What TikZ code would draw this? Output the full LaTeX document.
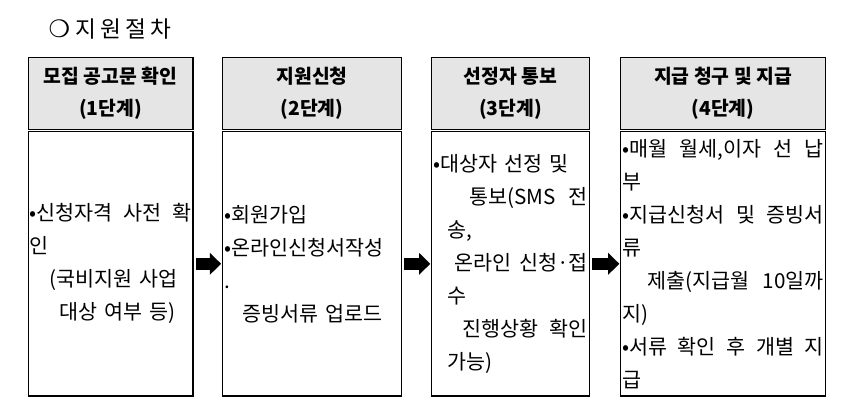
\documentclass[tikz,border=0pt]{standalone}
\usepackage{fontspec}
\setmainfont{Noto Sans CJK KR}
\newfontfamily\symfont{DejaVu Sans}
\usetikzlibrary{arrows.meta}
\definecolor{hdrgray}{RGB}{229,229,229}
\newcommand{\jline}[2][0pt]{\hspace*{#1}\makebox[\dimexpr\hsize-#1\relax][s]{\spaceskip=0.05em plus 1fil\relax #2}}
\newcommand{\bodysize}{\fontsize{15.5pt}{24.75pt}\selectfont}

\begin{document}
\begin{tikzpicture}[x=0.75pt,y=-0.75pt,
    hdr/.style={draw,line width=1pt,fill=hdrgray,minimum height=54pt,inner sep=0pt,align=center,
        font=\bfseries\fontsize{14.5pt}{23.8pt}\selectfont},
    body/.style={draw,line width=1pt,minimum height=198.4pt,inner xsep=1.2pt,inner ysep=0pt,align=left,
        font=\bodysize},
    arr/.style={line width=9pt,-{Triangle[length=8.5pt,width=16pt]},shorten <=1.5pt,shorten >=0.5pt}]
    \useasboundingbox (0,0) rectangle (853,408);

    \node[anchor=west,font=\fontsize{17pt}{20pt}\selectfont] (title) at (44,29)
        {{\symfont\fontsize{18pt}{20pt}\selectfont ❍}\hspace{4pt}지\hspace{3pt}원\hspace{3pt}절\hspace{3pt}차};

    % headers
    \node[hdr,minimum width=123.5pt] (h1) at (110.6,93.3) {모집 공고문 확인\\(1단계)};
    \node[hdr,minimum width=134.4pt] (h2) at (312.1,93.3) {지원신청\\(2단계)};
    \node[hdr,minimum width=118.4pt] (h3) at (510.6,93.3) {선정자 통보\\(3단계)};
    \node[hdr,minimum width=153.5pt] (h4) at (723,93.3) {지급 청구 및 지급\\(4단계)};

    % bodies
    \node[body,text width=121pt] (b1) at (110.6,263.8)
        {\bodysize\jline{•신청자격 사전 확}\\인\\\hspace*{15pt}(국비지원 사업\\\hspace*{22.5pt}대상 여부 등)};
    \node[body,text width=132pt] (b2) at (312.1,263.8)
        {\bodysize•회원가입\\•온라인신청서작성\\.\\\hspace*{14pt}증빙서류 업로드};
    \node[body,text width=116pt] (b3) at (510.6,263.8)
        {\bodysize•대상자 선정 및\\\jline[27pt]{통보(SMS 전}\\\hspace*{10.5pt}송,\\\jline[16pt]{온라인 신청·접}\\
         \hspace*{10.5pt}수\\\jline[22pt]{진행상황 확인}\\\hspace*{10.5pt}가능)};
    \node[body,text width=151pt] (b4) at (723,263.8)
        {\bodysize\jline{•매월 월세,이자 선 납}\\부\\\jline{•지급신청서 및 증빙서}\\류\\
         \jline[19pt]{제출(지급월 10일까}\\지)\\\jline{•서류 확인 후 개별 지}\\급};

    \draw[arr] (b1) -- (b2);
    \draw[arr] (b2) -- (b3);
    \draw[arr] (b3) -- (b4);
\end{tikzpicture}
\end{document}
